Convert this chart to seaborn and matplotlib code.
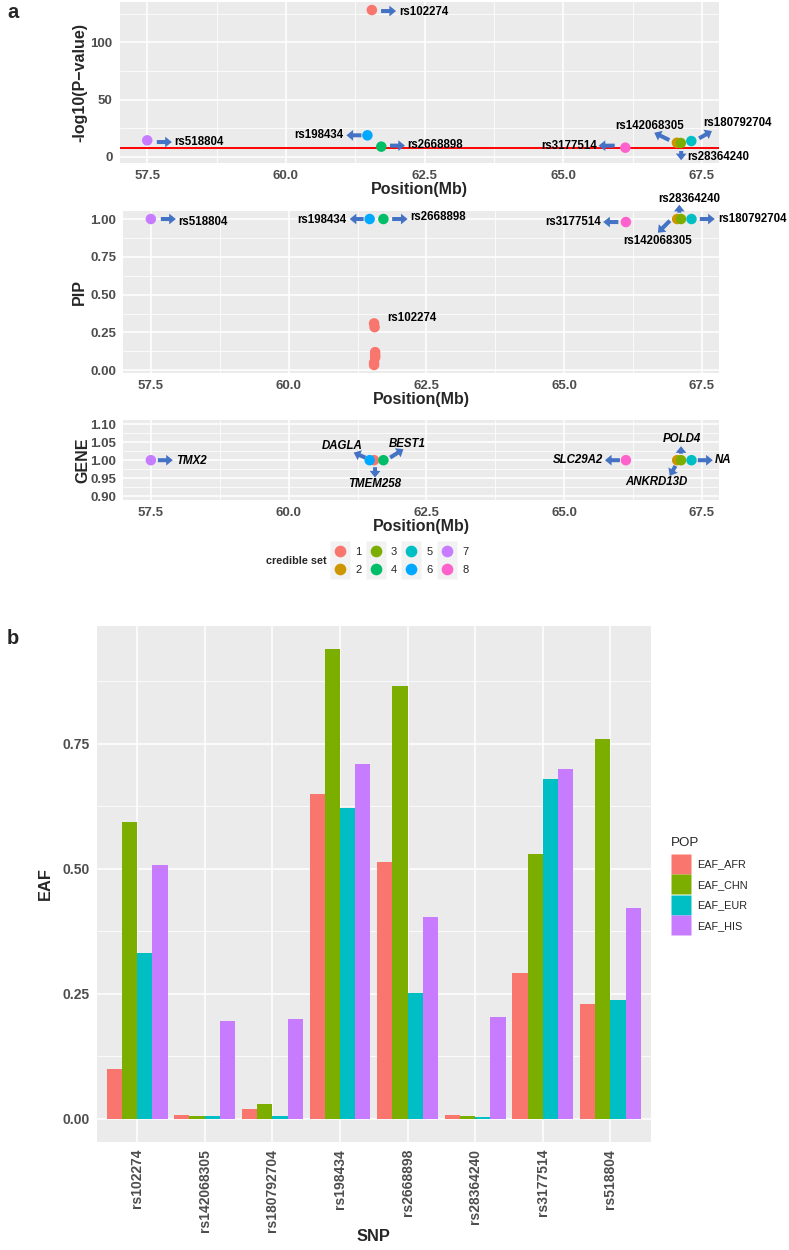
"""
Fine-mapping overview: -log10(P), PIP and gene panels plus EAF bar chart.
"""

import matplotlib
matplotlib.use("Agg")
import matplotlib.pyplot as plt
import numpy as np
import pandas as pd
import seaborn as sns
from matplotlib.lines import Line2D
from matplotlib.ticker import MultipleLocator, FormatStrFormatter
from matplotlib.transforms import ScaledTranslation

# ---------------------------------------------------------------------------
# Data
# ---------------------------------------------------------------------------
LEAD_SNPS = ["rs518804", "rs102274", "rs198434", "rs2668898",
             "rs3177514", "rs142068305", "rs28364240", "rs180792704"]
LEAD_POS = [57.50, 61.55, 61.47, 61.72, 66.12, 67.05, 67.12, 67.31]
LEAD_LOGP = [14.3, 128.2, 18.7, 8.8, 7.9, 12.2, 12.0, 13.7]
LEAD_PIP = [1.00, 0.31, 1.00, 1.00, 0.98, 1.00, 1.00, 1.00]
LEAD_SET = ["7", "1", "6", "4", "8", "2", "3", "5"]
LEAD_GENE = ["TMX2", "TMEM258", "DAGLA", "BEST1",
             "SLC29A2", "ANKRD13D", "POLD4", "NA"]

# other members of credible set 1 (only visible in the PIP panel)
SET1_POS = [61.56, 61.57, 61.57, 61.57, 61.55, 61.55]
SET1_PIP = [0.285, 0.12, 0.10, 0.085, 0.05, 0.035]

GWS_LOGP = 7.3  # -log10(5e-8)

SNPS = ["rs102274", "rs142068305", "rs180792704", "rs198434",
        "rs2668898", "rs28364240", "rs3177514", "rs518804"]
EAF_AFR = [0.100, 0.008, 0.020, 0.649, 0.514, 0.008, 0.292, 0.229]
EAF_CHN = [0.593, 0.006, 0.029, 0.939, 0.866, 0.006, 0.530, 0.760]
EAF_EUR = [0.331, 0.005, 0.005, 0.621, 0.251, 0.004, 0.679, 0.237]
EAF_HIS = [0.507, 0.196, 0.200, 0.710, 0.403, 0.204, 0.700, 0.421]

# ---------------------------------------------------------------------------
# Style
# ---------------------------------------------------------------------------
SET_ORDER = ["1", "2", "3", "4", "5", "6", "7", "8"]
SET_COLORS = ["#F8766D", "#CD9600", "#7CAE00", "#00BE67",
              "#00BFC4", "#00A9FF", "#C77CFF", "#FF61CC"]
SET_PALETTE = dict(zip(SET_ORDER, SET_COLORS))
POP_PALETTE = {"EAF_AFR": "#F8766D", "EAF_CHN": "#7CAE00",
               "EAF_EUR": "#00BFC4", "EAF_HIS": "#C77CFF"}
ARROW_COLOR = "#4472C4"
ARROW_STYLE = "simple,head_length=0.48,head_width=0.77,tail_width=0.29"
TICK_GREY = "#4D4D4D"
POINT_SIZE = 57

# callout offsets in pixels (tail, head, text, ha), y pointing up
P1_CALLOUTS = {
    "rs518804": ((9.6, -1.7), (24.6, -1.7), (27, -2), "left"),
    "rs102274": ((9.2, -1), (24.2, -1), (27.2, -2), "left"),
    "rs198434": ((-6, 0), (-21, 0), (-24, 0), "right"),
    "rs2668898": ((8.7, 1), (23.7, 1), (25.5, 1.5), "left"),
    "rs3177514": ((-10.6, 2), (-26.7, 2), (-28, 2), "right"),
    "rs142068305": ((-7.6, 2.7), (-22.6, 10), (-27.6, 17), "center"),
    "rs28364240": ((0.4, -8), (0.4, -17.3), (6, -14), "left"),
    "rs180792704": ((7.8, 2.7), (20.6, 10), (45.8, 18.5), "center"),
}
P2_CALLOUTS = {
    "rs518804": ((10, 0), (25, 0), (27, -2.7), "left"),
    "rs198434": ((-6, 0), (-20, 0), (-23, -1), "right"),
    "rs2668898": ((8.7, 0), (24.2, 0), (26.7, 2.3), "left"),
    "rs3177514": ((-7.6, 0), (-22.7, 0), (-25.3, 0), "right"),
    "rs142068305": ((-7.3, -1.7), (-19.3, -13.7), (-19.3, -22.4), "center"),
    "rs28364240": ((-1.7, 6.3), (-1.7, 14.3), (8.3, 20), "center"),
    "rs180792704": ((8.3, 0), (23.3, 0), (26.3, 0), "left"),
    "rs102274": (None, None, (13.3, 5.8), "left"),
}
P3_CALLOUTS = {
    "TMX2": ((7, 0), (22, 0), (25, -1), "left"),
    "DAGLA": ((-4.3, 2.6), (-16, 7.6), (-27.6, 14.3), "center"),
    "TMEM258": ((1, -7), (1, -17.4), (1, -23.4), "center"),
    "BEST1": ((6.7, 2.6), (20, 11), (23.4, 16.6), "center"),
    "SLC29A2": ((-6, 0), (-21, 0), (-23.3, 0), "right"),
    "POLD4": ((0, 6.5), (0, 14), (0.7, 21), "center"),
    "ANKRD13D": ((-1.7, -5.7), (-7.4, -15.7), (-20.7, -21.4), "center"),
    "NA": ((6.3, 0), (21.3, 0), (23.3, 0), "left"),
}

sns.set_theme(style="darkgrid", rc={
    "axes.facecolor": "#EBEBEB",
    "grid.color": "white",
    "axes.edgecolor": "#EBEBEB",
})
plt.rcParams["font.family"] = ["Liberation Sans", "DejaVu Sans"]


def _shift(ax, dx, dy):
    """Data transform offset by (dx, dy) pixels at 100 dpi."""
    return ax.transData + ScaledTranslation(dx / 100, dy / 100,
                                            ax.figure.dpi_scale_trans)


def _style_axes(ax, ymajor, yminor, yfmt, ylabel, xlabel_y, ylabel_x):
    ax.set_xlim(57.0, 67.8)
    ax.xaxis.set_major_locator(MultipleLocator(2.5))
    ax.xaxis.set_minor_locator(MultipleLocator(1.25))
    ax.xaxis.set_major_formatter(FormatStrFormatter("%.1f"))
    ax.yaxis.set_major_locator(MultipleLocator(ymajor))
    ax.yaxis.set_minor_locator(MultipleLocator(yminor))
    ax.yaxis.set_major_formatter(FormatStrFormatter(yfmt))
    ax.grid(which="minor", color="white", lw=0.55)
    ax.grid(which="major", color="white", lw=1.1)
    ax.tick_params(which="major", length=3, width=0.8, color="#333333",
                   labelcolor=TICK_GREY, labelsize=9.5, pad=2)
    ax.tick_params(which="minor", length=0)
    for lab in ax.get_xticklabels() + ax.get_yticklabels():
        lab.set_fontweight("bold")
    for sp in ax.spines.values():
        sp.set_visible(False)
    ax.set_xlabel("Position(Mb)", fontsize=11.5, fontweight="bold")
    ax.set_ylabel(ylabel, fontsize=11.5, fontweight="bold")
    ax.xaxis.set_label_coords(0.5, xlabel_y)
    ax.yaxis.set_label_coords(ylabel_x, 0.5)


def _scatter(ax, pos, vals, sets):
    df = pd.DataFrame({"pos": pos, "val": vals, "set": sets})
    df = df.sort_values("set", kind="stable")
    sns.scatterplot(data=df, x="pos", y="val", hue="set",
                    palette=SET_PALETTE, hue_order=SET_ORDER,
                    s=POINT_SIZE, linewidth=0, alpha=1,
                    legend=False, ax=ax, zorder=3)


def _callouts(ax, xs, ys, names, offsets, italic=False):
    for x, y, name in zip(xs, ys, names):
        if name not in offsets:
            continue
        tail, head, txt, ha = offsets[name]
        if tail is not None:
            ax.annotate("", xy=(x, y), xycoords=_shift(ax, *head),
                        xytext=(x, y), textcoords=_shift(ax, *tail),
                        arrowprops=dict(arrowstyle=ARROW_STYLE, fc=ARROW_COLOR,
                                        ec="none", shrinkA=0, shrinkB=0,
                                        mutation_scale=10),
                        zorder=4, annotation_clip=False)
        ax.annotate(name, xy=(x, y), xytext=(txt[0] * 0.72, txt[1] * 0.72),
                    textcoords="offset points", ha=ha, va="center",
                    fontsize=8.3, fontweight="bold", color="black",
                    fontstyle="italic" if italic else "normal",
                    zorder=5, annotation_clip=False)


def main():
    fig = plt.figure(figsize=(7.89, 12.5), dpi=100)
    W, H = 789, 1250

    def rect(left, top, right, bottom):
        return [left / W, 1 - bottom / H, (right - left) / W, (bottom - top) / H]

    # --- panel a1: -log10(P) ------------------------------------------------
    ax1 = fig.add_axes(rect(119.5, 1.7, 718.5, 163))
    _scatter(ax1, LEAD_POS, LEAD_LOGP, LEAD_SET)
    ax1.axhline(GWS_LOGP, color="red", lw=1.4, zorder=2)
    ax1.set_ylim(-5.5, 135.5)
    _style_axes(ax1, 50, 25, "%d", "-log10(P\u2212value)", -0.118, -0.053)
    _callouts(ax1, LEAD_POS, LEAD_LOGP, LEAD_SNPS, P1_CALLOUTS)

    # --- panel a2: PIP --------------------------------------------------------
    ax2 = fig.add_axes(rect(123.3, 210.7, 718.5, 372.7))
    _scatter(ax2, LEAD_POS + SET1_POS, LEAD_PIP + SET1_PIP,
             LEAD_SET + ["1"] * len(SET1_POS))
    ax2.set_ylim(-0.016, 1.055)
    _style_axes(ax2, 0.25, 0.125, "%.2f", "PIP", -0.119, -0.061)
    _callouts(ax2, LEAD_POS, LEAD_PIP, LEAD_SNPS, P2_CALLOUTS)

    # --- panel a3: GENE -------------------------------------------------------
    ax3 = fig.add_axes(rect(123.3, 420.4, 718.5, 500))
    gene_y = [1.0] * len(LEAD_GENE)
    _scatter(ax3, LEAD_POS, gene_y, LEAD_SET)
    ax3.set_ylim(0.889, 1.111)
    _style_axes(ax3, 0.05, 0.025, "%.2f", "GENE", -0.235, -0.056)
    _callouts(ax3, LEAD_POS, gene_y, LEAD_GENE, P3_CALLOUTS, italic=True)

    # credible-set legend: grey key square with the coloured dot on top
    handles = [(Line2D([], [], ls="", marker="s", ms=13.7, mfc="#F2F2F2",
                       mec="none"),
                Line2D([], [], ls="", marker="o", ms=8.4, mfc=c, mec="none"))
               for c in SET_COLORS]
    fig.legend(handles, SET_ORDER, ncol=4, loc="center left",
               bbox_to_anchor=(330.5 / W, 1 - 561 / H), frameon=False,
               borderpad=0, borderaxespad=0, fontsize=8,
               handlelength=1.7, handleheight=0.7, labelspacing=0.77,
               handletextpad=0.5, columnspacing=0.45)
    fig.text(327 / W, 1 - 561 / H, "credible set", ha="right", va="center",
             fontsize=7.8, fontweight="bold")

    # --- panel b: EAF bars ----------------------------------------------------
    eaf = pd.DataFrame({
        "SNP": SNPS * 4,
        "POP": (["EAF_AFR"] * len(SNPS) + ["EAF_CHN"] * len(SNPS)
                + ["EAF_EUR"] * len(SNPS) + ["EAF_HIS"] * len(SNPS)),
        "EAF": EAF_AFR + EAF_CHN + EAF_EUR + EAF_HIS,
    })
    ax4 = fig.add_axes(rect(96.5, 626, 651, 1142))
    sns.barplot(data=eaf, x="SNP", y="EAF", hue="POP", palette=POP_PALETTE,
                saturation=1, width=0.9, gap=0, linewidth=0, ax=ax4,
                zorder=3)
    ax4.set_xlim(-0.6, len(SNPS) - 0.4)
    ax4.set_ylim(-0.047, 0.986)
    ax4.yaxis.set_major_locator(MultipleLocator(0.25))
    ax4.yaxis.set_minor_locator(MultipleLocator(0.125))
    ax4.yaxis.set_major_formatter(FormatStrFormatter("%.2f"))
    ax4.grid(True, axis="x", which="major", color="white", lw=1.1)
    ax4.grid(True, axis="y", which="minor", color="white", lw=0.55)
    ax4.grid(True, axis="y", which="major", color="white", lw=1.1)
    ax4.set_axisbelow(True)
    ax4.tick_params(which="major", length=3, width=0.8, color="#333333",
                    labelcolor=TICK_GREY, labelsize=10, pad=2)
    ax4.tick_params(which="minor", length=0)
    ax4.tick_params(axis="x", labelrotation=90)
    for lab in ax4.get_xticklabels() + ax4.get_yticklabels():
        lab.set_fontweight("bold")
    for sp in ax4.spines.values():
        sp.set_visible(False)
    ax4.set_xlabel("SNP", fontsize=11.8, fontweight="bold")
    ax4.set_ylabel("EAF", fontsize=11.8, fontweight="bold")
    ax4.xaxis.set_label_coords(0.5, -0.169)
    ax4.yaxis.set_label_coords(-0.078, 0.5)

    pops = list(POP_PALETTE)
    pop_handles = [Line2D([], [], ls="", marker="s", ms=14.4,
                          mfc=POP_PALETTE[p], mec="none") for p in pops]
    ax4.legend(pop_handles, pops, title="POP", loc="center left",
               bbox_to_anchor=(1.036, 0.5), frameon=False, borderpad=0,
               borderaxespad=0, fontsize=7.8, title_fontsize=9.6,
               handlelength=1.85, handleheight=0.7, labelspacing=0.98,
               handletextpad=0.6, alignment="left")

    fig.text(7 / W, 1 - 12 / H, "a", fontsize=14.5, fontweight="bold",
             ha="left", va="center")
    fig.text(7 / W, 1 - 638 / H, "b", fontsize=14.5, fontweight="bold",
             ha="left", va="center")

    fig.savefig("out.png", dpi=100)


if __name__ == "__main__":
    main()
